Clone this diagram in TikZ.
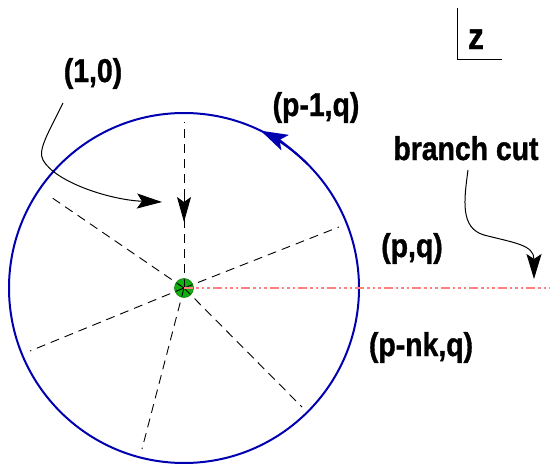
\documentclass[tikz,border=0pt]{standalone}
\usepackage{fontspec}
\setmainfont{Liberation Sans}[BoldFeatures={FakeBold=1.2}]
\usetikzlibrary{arrows.meta}
\definecolor{circblue}{RGB}{0,0,176}
\definecolor{cutred}{RGB}{255,128,128}
\definecolor{dotgreen}{RGB}{16,176,16}
\newcommand\lbltext[2][33]{\scalebox{0.86}[1]{\fontsize{#1}{#1}\selectfont\bfseries #2}}
\begin{document}
\begin{tikzpicture}[x=1pt,y=-1pt,
  spoke/.style={draw=black, line width=0.9pt, dash pattern=on 9pt off 6pt},
  cutline/.style={draw=cutred, line width=1.8pt, dash pattern=on 9pt off 3pt on 2.5pt off 3pt on 2.5pt off 3pt on 2.5pt off 3pt},
  pointer/.style={draw=black, line width=1pt, -{Stealth[length=25pt,width=15pt,inset=5pt]}},
  lab/.style={anchor=base, inner sep=0pt}]
\useasboundingbox (0,0) rectangle (550,466);
% coordinates
\coordinate (c) at (184,288);
\coordinate (s0) at (184,122);
\coordinate (s1) at (48,195);
\coordinate (s2) at (30,351);
\coordinate (s3) at (142,449);
\coordinate (s4) at (302,407);
\coordinate (s5) at (339,227);
\coordinate (cutend) at (550,288);
\coordinate (arrA) at (184,195);
\coordinate (arrB) at (184,222);
% circle
\draw[circblue, line width=2pt] (c) circle[radius=175];
\draw[circblue, line width=2pt, -{Stealth[length=27pt,width=17pt,inset=6pt]}] (c) ++(-45:175) arc[start angle=-45, end angle=-64, radius=175];
% green dot
\fill[dotgreen, draw=dotgreen!70!black, line width=0.6pt] (c) circle[radius=9.5];
% spokes
\foreach \s in {s0,s1,s2,s3,s4,s5} \draw[spoke] (c) -- (\s);
\draw[line width=1pt, -{Stealth[length=25pt,width=14pt,inset=5pt]}] (arrA) -- (arrB);
% branch cut line
\draw[cutline] (c) -- (cutend);
% z box
\coordinate (zt) at (457,8);
\coordinate (zc) at (457,59);
\coordinate (zr) at (502,59);
\draw[line width=0.9pt] (zt) -- (zc) -- (zr);
\node[lab] (z) at (476,49) {\lbltext[37]{z}};
% labels
\node[lab] (l10) at (93,82) {\lbltext{(1,0)}};
\node[lab] (lp1) at (316,116) {\lbltext{(p-1,q)}};
\node[lab] (lbc) at (466,160) {\lbltext{branch cut}};
\node[lab] (lpq) at (412,257) {\lbltext{(p,q)}};
\node[lab] (lpn) at (421,356) {\lbltext{(p-nk,q)}};
% pointers
\coordinate (p1s) at (63,103);
\coordinate (p1m) at (43,160);
\coordinate (p1e) at (162,202);
\draw[pointer] (p1s) .. controls (50,130) and (37,150) .. (p1m) .. controls (55,182) and (110,200) .. (p1e);
\coordinate (p2s) at (468,170);
\coordinate (p2m) at (484,235);
\coordinate (p2e) at (534,279);
\draw[pointer] (p2s) .. controls (464,200) and (460,228) .. (p2m) .. controls (515,243) and (534,245) .. (p2e);
\end{tikzpicture}
\end{document}
